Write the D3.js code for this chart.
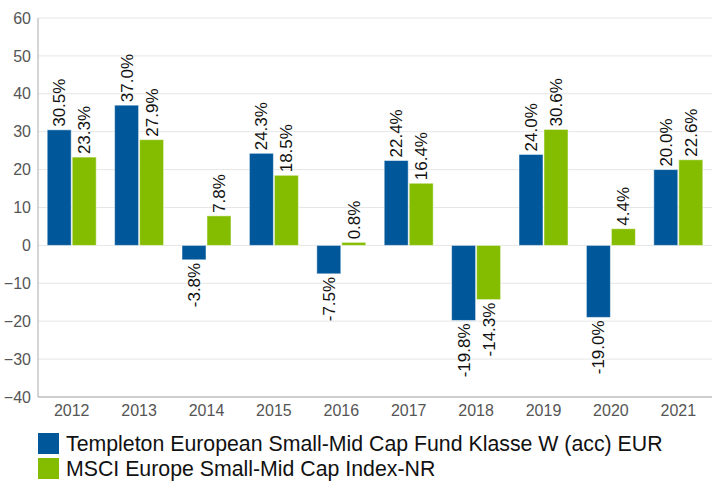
<!DOCTYPE html>
<html>
<head>
<meta charset="utf-8">
<script src="https://cdn.jsdelivr.net/npm/d3@7"></script>
<style>
    body { margin: 0; background: #fff; }
    svg { font-family: "Liberation Sans", Arial, sans-serif; }
</style>
</head>
<body>
<div id="chart-container"></div>
<script>
var years = ["2012", "2013", "2014", "2015", "2016", "2017", "2018", "2019", "2020", "2021"];
var fundValues = [30.5, 37.0, -3.8, 24.3, -7.5, 22.4, -19.8, 24.0, -19.0, 20.0];
var indexValues = [23.3, 27.9, 7.8, 18.5, 0.8, 16.4, -14.3, 30.6, 4.4, 22.6];
var seriesNames = ["Templeton European Small-Mid Cap Fund Klasse W (acc) EUR", "MSCI Europe Small-Mid Cap Index-NR"];
var seriesColors = ["#00579a", "#84bd00"];
var yTicks = [-40, -30, -20, -10, 0, 10, 20, 30, 40, 50, 60];

var margin = { top: 18, right: 2, bottom: 85, left: 38 },
    width = 714 - margin.left - margin.right,
    height = 482 - margin.top - margin.bottom;

var svg = d3.select("#chart-container")
    .append("svg")
    .attr("width", 714)
    .attr("height", 482)
    .append("g")
    .attr("transform", "translate(" + margin.left + "," + margin.top + ")");

var x = d3.scaleBand().domain(years).range([0, width]);
var y = d3.scaleLinear().domain([-40, 60]).range([height, 0]);

// gridlines
svg.selectAll(".grid")
    .data(yTicks)
    .enter()
    .append("line")
    .attr("x1", 0)
    .attr("x2", width)
    .attr("y1", function (d) { return y(d); })
    .attr("y2", function (d) { return y(d); })
    .attr("stroke", "#e6e6e6")
    .attr("stroke-width", 1);

// y-axis labels
svg.append("g")
    .call(d3.axisLeft(y).tickValues(yTicks).tickSize(0).tickPadding(7))
    .call(function (g) { g.select(".domain").remove(); })
    .selectAll("text")
    .style("font-family", "Liberation Sans, Arial, sans-serif")
    .style("font-size", "16px")
    .attr("fill", "#555");

// x-axis
svg.append("g")
    .attr("transform", "translate(0," + height + ")")
    .call(d3.axisBottom(x).tickSize(0).tickPadding(8))
    .call(function (g) { g.select(".domain").remove(); })
    .selectAll("text")
    .style("font-family", "Liberation Sans, Arial, sans-serif")
    .style("font-size", "16px")
    .attr("fill", "#555");

var barW = 24;
var series = [fundValues, indexValues];

series.forEach(function (vals, si) {
    var data = years.map(function (yr, i) { return { year: yr, value: vals[i] }; });
    var xOff = function (d) { return x(d.year) + x.bandwidth() / 2 - barW - 0.5 + si * (barW + 1); };

    svg.selectAll(".bar-" + si)
        .data(data)
        .enter()
        .append("rect")
        .attr("class", "bar-" + si)
        .attr("x", xOff)
        .attr("y", function (d) { return y(Math.max(0, d.value)); })
        .attr("width", barW)
        .attr("height", function (d) { return Math.abs(y(d.value) - y(0)); })
        .attr("fill", seriesColors[si])
        .attr("stroke", "#fff")
        .attr("stroke-opacity", 0.5)
        .attr("stroke-width", 1);

    svg.selectAll(".label-" + si)
        .data(data)
        .enter()
        .append("text")
        .attr("transform", function (d) {
            var tx = xOff(d) + barW / 2 + 6;
            var ty = d.value >= 0 ? y(d.value) - 3 : y(d.value) + 3;
            return "translate(" + tx + "," + ty + ")rotate(-90)";
        })
        .attr("text-anchor", function (d) { return d.value >= 0 ? "start" : "end"; })
        .style("font-size", "17px")
        .attr("fill", "#111")
        .text(function (d) { return d.value.toFixed(1) + "%"; });
});

// axis lines
svg.append("line")
    .attr("x1", 0).attr("x2", 0).attr("y1", 0).attr("y2", height)
    .attr("stroke", "#aaa");
svg.append("line")
    .attr("x1", 0).attr("x2", width).attr("y1", height).attr("y2", height)
    .attr("stroke", "#aaa");

// legend
var legend = svg.selectAll(".legend")
    .data(seriesNames)
    .enter()
    .append("g")
    .attr("transform", function (d, i) { return "translate(0," + (height + 36 + i * 25) + ")"; });

legend.append("rect")
    .attr("width", 21)
    .attr("height", 21)
    .attr("fill", function (d, i) { return seriesColors[i]; });

legend.append("text")
    .attr("x", 28)
    .attr("y", 18)
    .style("font-size", "21.3px")
    .attr("fill", "#111")
    .text(function (d) { return d; });
</script>
</body>
</html>
